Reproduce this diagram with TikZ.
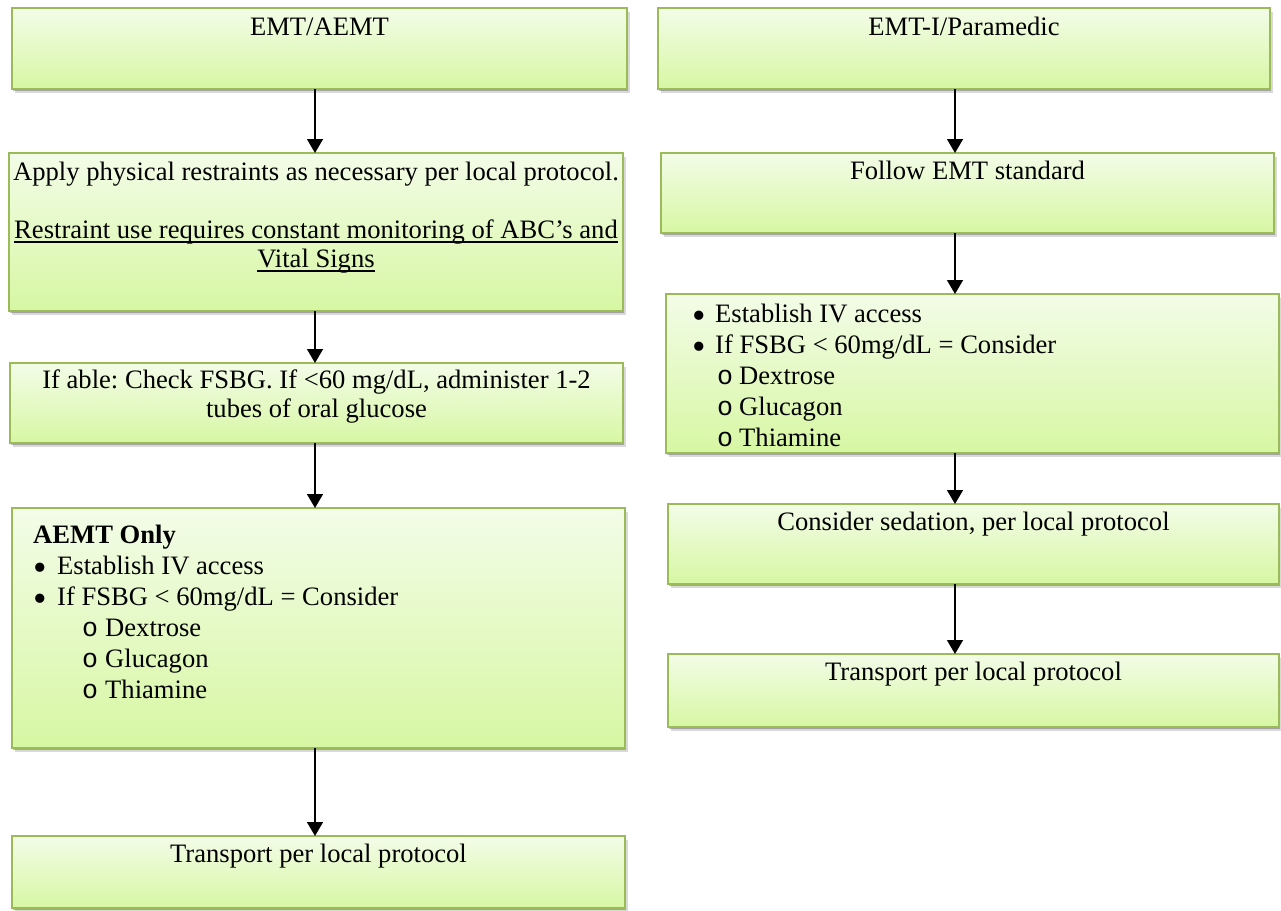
\documentclass[tikz,border=0pt]{standalone}
\usepackage{fontspec}
\setmainfont{Liberation Serif}
\newfontfamily\monofam{Liberation Mono}
\usetikzlibrary{arrows.meta,shadows}
\definecolor{boxtop}{RGB}{243,252,232}
\definecolor{boxbot}{RGB}{215,247,163}
\definecolor{boxline}{RGB}{155,187,89}
\frenchspacing
% underline at a fixed depth below the baseline
\newcommand\undl[1]{\setbox0\hbox{#1}\rlap{\rule[-4.5pt]{\wd0}{1.3pt}}\box0}
% bullet helpers: indent, marker box width
\newcommand\bigdot{\raisebox{-6.3pt}{\scalebox{1.45}{\textbullet}}}
\newcommand\bul[2]{\hspace*{#1}\makebox[#2][l]{\bigdot}}
\newcommand\sub[2]{\hspace*{#1}\makebox[#2][l]{\monofam o}}
\begin{document}
\begin{tikzpicture}[x=1pt,y=-1pt,
  box/.style={draw=boxline, line width=1.3pt, top color=boxtop, bottom color=boxbot,
    inner sep=0pt, outer sep=0pt,
    general shadow={shadow xshift=1pt, shadow yshift=-2pt, fill=black, opacity=0.25},
    general shadow={shadow xshift=2.5pt, shadow yshift=-4pt, fill=black, opacity=0.15}},
  txt/.style={font=\fontsize{26.6}{29}\selectfont, inner sep=0pt, anchor=base, align=center},
  lst/.style={font=\fontsize{26.6}{31}\selectfont, inner sep=0pt, anchor=base west, align=left},
  arr/.style={line width=1.5pt, -{Triangle[width=16pt,length=14pt]}}]
\useasboundingbox (0,0) rectangle (1281,910);

% ---------- left column: EMT / AEMT ----------
\node[box, minimum width=615pt, minimum height=81pt]  (L1) at (319.5,48.5) {};
\node[box, minimum width=614pt, minimum height=158pt] (L2) at (316,232) {};
\node[box, minimum width=613pt, minimum height=80pt]  (L3) at (316.5,403) {};
\node[box, minimum width=613pt, minimum height=240pt] (L4) at (318.5,628) {};
\node[box, minimum width=613pt, minimum height=72pt]  (L5) at (318.5,872) {};

% multi-line texts are placed by the baseline of their last line
\node[txt] (tL1) at ([yshift=-27pt]L1.north) {EMT/AEMT};
\node[txt] (tL2) at ([yshift=-114pt]L2.north)
  {Apply physical restraints as necessary per local protocol.\\[29pt]
   \undl{Restraint use requires constant monitoring of ABC’s and}\\
   \undl{Vital Signs}};
\node[txt] (tL3) at ([yshift=-54pt]L3.north)
  {If able: Check FSBG. If <60 mg/dL, administer 1-2\\ tubes of oral glucose};
\node[lst] (tL4) at ([xshift=21pt,yshift=-190pt]L4.north west)
  {\textbf{AEMT Only}\\
   \bul{0pt}{24pt}Establish IV access\\
   \bul{0pt}{24pt}If FSBG < 60mg/dL = Consider\\
   \sub{49pt}{23pt}Dextrose\\
   \sub{49pt}{23pt}Glucagon\\
   \sub{49pt}{23pt}Thiamine};
\node[txt] (tL5) at ([yshift=-26pt]L5.north) {Transport per local protocol};

% ---------- right column: EMT-I / Paramedic ----------
\node[box, minimum width=612pt, minimum height=81pt]  (R1) at (964,48.5) {};
\node[box, minimum width=613pt, minimum height=80pt]  (R2) at (967.5,193) {};
\node[box, minimum width=613pt, minimum height=159pt] (R3) at (972.5,373.5) {};
\node[box, minimum width=611pt, minimum height=80pt]  (R4) at (973.5,544) {};
\node[box, minimum width=611pt, minimum height=73pt]  (R5) at (973.5,690.5) {};

\node[txt] (tR1) at ([yshift=-27pt]R1.north) {EMT-I/Paramedic};
\node[txt] (tR2) at ([yshift=-26pt]R2.north) {Follow EMT standard};
\node[lst] (tR3) at ([xshift=26pt,yshift=-152pt]R3.north west)
  {\bul{0pt}{23pt}Establish IV access\\
   \bul{0pt}{23pt}If FSBG < 60mg/dL = Consider\\
   \sub{25pt}{22pt}Dextrose\\
   \sub{25pt}{22pt}Glucagon\\
   \sub{25pt}{22pt}Thiamine};
\node[txt] (tR4) at ([yshift=-26pt]R4.north) {Consider sedation, per local protocol};
\node[txt] (tR5) at ([yshift=-26pt]R5.north) {Transport per local protocol};

% ---------- connectors ----------
\coordinate (axL) at (315,0);
\coordinate (axR) at (955,0);
\draw[arr] (L1.south -| axL) -- (L2.north -| axL);
\draw[arr] (L2.south -| axL) -- (L3.north -| axL);
\draw[arr] (L3.south -| axL) -- (L4.north -| axL);
\draw[arr] (L4.south -| axL) -- (L5.north -| axL);
\draw[arr] (R1.south -| axR) -- (R2.north -| axR);
\draw[arr] (R2.south -| axR) -- (R3.north -| axR);
\draw[arr] (R3.south -| axR) -- (R4.north -| axR);
\draw[arr] (R4.south -| axR) -- (R5.north -| axR);
\end{tikzpicture}
\end{document}
